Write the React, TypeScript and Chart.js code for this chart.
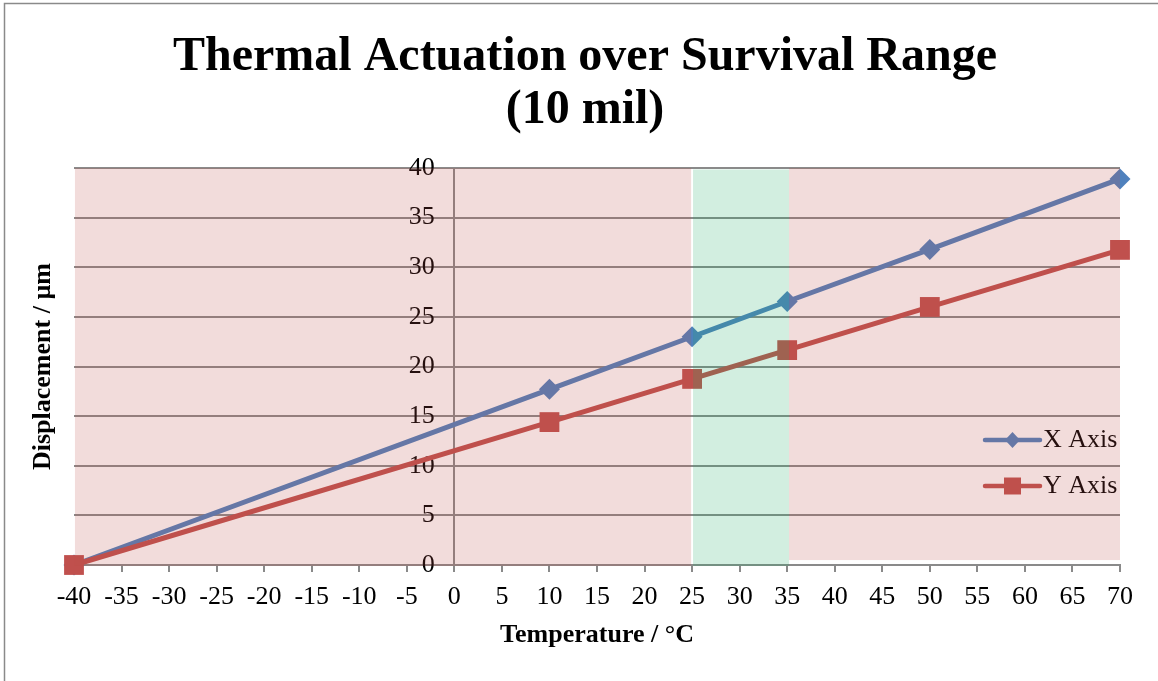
import React, { useEffect, useRef } from 'react';
import { Chart, registerables } from 'chart.js';

Chart.register(...registerables);

// Measured displacement of each axis versus temperature
const temperatures = [-40, 10, 25, 35, 50, 70];
const xAxisDisplacement = [0, 17.7, 23.0, 26.55, 31.8, 38.9];
const yAxisDisplacement = [0, 14.4, 18.75, 21.65, 26.0, 31.75];
const seriesLabels = ['X Axis', 'Y Axis'];
const titleLines = ['Thermal Actuation over Survival Range', '(10 mil)'];

// Shaded temperature bands: survival range (red) and operating range (green)
const bandFrom = [-39.9, 25.1, 35.2];
const bandTo = [24.9, 35.2, 70];
const bandLow = [-0.1, -0.1, 0.5];
const bandHigh = [40, 39.85, 40];
const bandColors = ['rgba(192, 80, 77, 0.2)', 'rgba(30, 170, 100, 0.2)', 'rgba(192, 80, 77, 0.2)'];

const FONT = "'Liberation Serif', 'Times New Roman', serif";
const BLUE = '#4F81BD';
const RED = '#C0504D';
const GRID = '#8a8a8a';

const framePlugin = {
  id: 'frame',
  beforeDraw(chart: any) {
    const { ctx } = chart;
    ctx.save();
    ctx.strokeStyle = '#8a8a8a';
    ctx.lineWidth = 1.5;
    ctx.strokeRect(4.5, 3.5, chart.width + 20, chart.height + 20);
    ctx.restore();
  },
};

const titlesPlugin = {
  id: 'titles',
  afterDraw(chart: any) {
    const { ctx, chartArea } = chart;
    ctx.save();
    ctx.fillStyle = '#000';
    ctx.textAlign = 'center';
    ctx.textBaseline = 'alphabetic';
    ctx.font = `bold 48px ${FONT}`;
    ctx.fillText(titleLines[0], 585, 70);
    ctx.fillText(titleLines[1], 585, 123);

    ctx.translate(43, (chartArea.top + chartArea.bottom) / 2);
    ctx.rotate(-Math.PI / 2);
    ctx.font = `bold 26px ${FONT}`;
    ctx.textBaseline = 'middle';
    ctx.fillText('Displacement / µm', 0, 0);
    ctx.restore();
  },
};

// Legend (line + marker) drawn inside the plot, then the translucent bands on top
const legendAndBandsPlugin = {
  id: 'legendAndBands',
  afterDraw(chart: any) {
    const { ctx, chartArea, scales } = chart;
    ctx.save();
    const rowsY = [chartArea.top + 272, chartArea.top + 318];
    const lineStart = chartArea.right - 135;
    const lineEnd = chartArea.right - 80;
    chart.data.datasets.forEach((ds: any, i: number) => {
      const y = rowsY[i];
      ctx.strokeStyle = ds.borderColor;
      ctx.lineWidth = 4.5;
      ctx.lineCap = 'round';
      ctx.beginPath();
      ctx.moveTo(lineStart, y);
      ctx.lineTo(lineEnd, y);
      ctx.stroke();
      const cx = (lineStart + lineEnd) / 2;
      ctx.fillStyle = ds.borderColor;
      ctx.beginPath();
      if (ds.pointStyle === 'rectRot') {
        ctx.moveTo(cx, y - 8);
        ctx.lineTo(cx + 7.5, y);
        ctx.lineTo(cx, y + 8);
        ctx.lineTo(cx - 7.5, y);
        ctx.closePath();
      } else {
        ctx.rect(cx - 8.5, y - 8.5, 17, 17);
      }
      ctx.fill();
      ctx.fillStyle = '#000';
      ctx.font = `26px ${FONT}`;
      ctx.textAlign = 'left';
      ctx.textBaseline = 'middle';
      ctx.fillText(ds.label, lineEnd + 3, y);
    });

    const xs = scales.x;
    const ys = scales.y;
    bandFrom.forEach((from, i) => {
      const x1 = xs.getPixelForValue(from);
      const x2 = xs.getPixelForValue(bandTo[i]);
      const y1 = ys.getPixelForValue(bandHigh[i]);
      const y2 = ys.getPixelForValue(bandLow[i]);
      ctx.fillStyle = bandColors[i];
      ctx.fillRect(x1, y1, x2 - x1, y2 - y1);
    });
    ctx.restore();
  },
};

export default function App() {
  const canvasRef = useRef<HTMLCanvasElement | null>(null);

  useEffect(() => {
    if (!canvasRef.current) return;
    const chart = new Chart(canvasRef.current, {
      type: 'line',
      data: {
        datasets: [
          {
            label: seriesLabels[0],
            data: temperatures.map((t, i) => ({ x: t, y: xAxisDisplacement[i] })),
            borderColor: BLUE,
            backgroundColor: BLUE,
            borderWidth: 5,
            pointStyle: 'rectRot',
            pointRadius: 10.5,
            pointBorderWidth: 0,
            pointBackgroundColor: BLUE,
            tension: 0,
            clip: false,
            order: 1,
          },
          {
            label: seriesLabels[1],
            data: temperatures.map((t, i) => ({ x: t, y: yAxisDisplacement[i] })),
            borderColor: RED,
            backgroundColor: RED,
            borderWidth: 5,
            pointStyle: 'rect',
            pointRadius: 14,
            pointBorderWidth: 0,
            pointBackgroundColor: RED,
            tension: 0,
            clip: false,
            order: 0,
          },
        ],
      },
      options: {
        responsive: false,
        animation: false,
        devicePixelRatio: 1,
        layout: { padding: { left: 74, right: 38, top: 168, bottom: 30.4 } },
        plugins: {
          legend: { display: false },
          tooltip: { enabled: false },
          title: { display: false },
        },
        scales: {
          x: {
            type: 'linear',
            min: -40,
            max: 70,
            ticks: {
              stepSize: 5,
              autoSkip: false,
              maxRotation: 0,
              color: '#000',
              padding: 10,
              font: { family: FONT, size: 26 },
            },
            grid: { drawOnChartArea: false, drawTicks: true, tickLength: 7, color: GRID, lineWidth: 2 },
            border: { display: true, color: GRID, width: 2 },
            title: {
              display: true,
              text: 'Temperature / °C',
              color: '#000',
              font: { family: FONT, size: 26, weight: 'bold', lineHeight: 0.9 },
              padding: { top: 0, bottom: 4 },
            },
          },
          y: {
            type: 'linear',
            position: { x: 0 } as any,
            min: 0,
            max: 40,
            ticks: {
              stepSize: 5,
              color: '#000',
              font: { family: FONT, size: 26 },
              // keep the labels clear of the axis line
              callback: (value: any) => `${value}   `,
            },
            grid: { color: GRID, lineWidth: 2, tickLength: 7 },
            border: { display: true, color: GRID, width: 2 },
          },
        },
      } as any,
      plugins: [framePlugin, titlesPlugin, legendAndBandsPlugin],
    });
    return () => chart.destroy();
  }, []);

  return (
    <div style={{ position: 'fixed', left: 0, top: 0, width: 1158, height: 681, overflow: 'hidden', background: '#fff' }}>
      <canvas ref={canvasRef} width={1158} height={681} style={{ display: 'block' }} />
    </div>
  );
}
